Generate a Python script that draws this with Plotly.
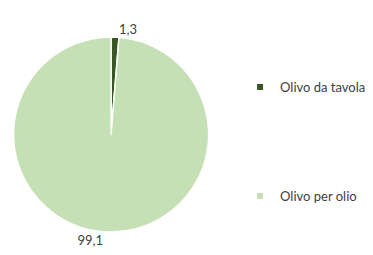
import plotly.graph_objects as go

categories = ["Olivo da tavola", "Olivo per olio"]
values = [1.3, 99.1]
colors = ["#375623", "#c5e0b4"]

labels_text = [f"{v:.1f}".replace(".", ",") for v in values]

W, H = 373, 255
fig = go.Figure()
fig.add_trace(go.Pie(
    labels=categories, values=values, text=labels_text,
    textinfo="text", textposition="outside", sort=False,
    direction="clockwise", rotation=0,
    marker=dict(colors=colors, line=dict(color="white", width=1.5)),
    textfont=dict(family="Lato", size=13, color="#404040"),
    showlegend=False, hoverinfo="label+value",
    domain=dict(x=[0.0, 0.533], y=[0.1215, 0.8865]),
))
for c, col in zip(categories, colors):
    fig.add_trace(go.Scatter(x=[None], y=[None], mode="markers", name=c,
                             legendgroup=c,
                             marker=dict(symbol="square", size=6, color=col)))
fig.update_layout(
    width=W, height=H, margin=dict(l=0, r=0, t=0, b=0),
    paper_bgcolor="white", plot_bgcolor="white",
    xaxis=dict(visible=False), yaxis=dict(visible=False),
    legend=dict(x=0.617, y=0.749, xanchor="left", yanchor="top",
                tracegroupgap=89, itemwidth=30,
                font=dict(family="Lato", size=13, color="#404040")),
)
fig.write_html("out.html")
